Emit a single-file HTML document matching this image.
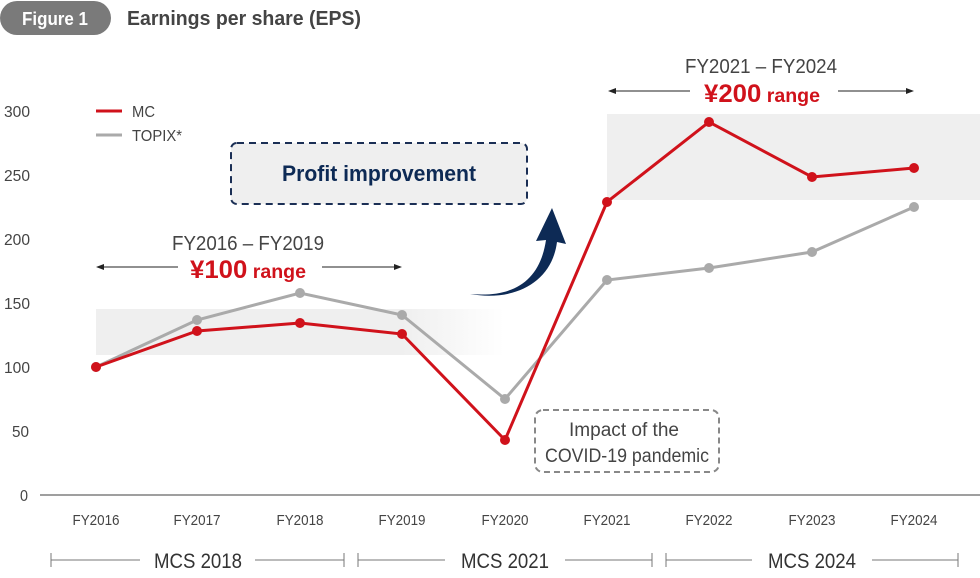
<!DOCTYPE html>
<html><head><meta charset="utf-8"><style>
body{margin:0;background:#fff}
svg text{font-family:"Liberation Sans",sans-serif}
</style></head><body>
<svg width="980" height="573" viewBox="0 0 980 573" xmlns="http://www.w3.org/2000/svg">
<defs>
<linearGradient id="g1" x1="0" x2="1"><stop offset="0.75" stop-color="#efefef"/><stop offset="1" stop-color="#efefef" stop-opacity="0"/></linearGradient>
</defs>
<rect x="0" y="1" width="111" height="34" rx="17" fill="#7a7a7a"/>
<text x="22" y="25" font-size="18" font-weight="bold" fill="#fff" textLength="66" lengthAdjust="spacingAndGlyphs">Figure 1</text>
<text x="127" y="25" font-size="20" font-weight="bold" fill="#444" textLength="234" lengthAdjust="spacingAndGlyphs">Earnings per share (EPS)</text>

<rect x="96" y="309" width="408" height="46" fill="url(#g1)"/>
<rect x="607" y="114" width="373" height="86" fill="#efefef"/>

<g font-size="16" fill="#444" text-anchor="start">
<text x="4" y="117" textLength="26" lengthAdjust="spacingAndGlyphs">300</text><text x="4" y="181" textLength="26" lengthAdjust="spacingAndGlyphs">250</text><text x="4" y="245" textLength="26" lengthAdjust="spacingAndGlyphs">200</text>
<text x="4" y="309" textLength="26" lengthAdjust="spacingAndGlyphs">150</text><text x="4" y="373" textLength="26" lengthAdjust="spacingAndGlyphs">100</text><text x="12" y="437" textLength="17" lengthAdjust="spacingAndGlyphs">50</text><text x="20" y="501" textLength="8" lengthAdjust="spacingAndGlyphs">0</text>
</g>
<line x1="40" y1="495" x2="980" y2="495" stroke="#666" stroke-width="1.2"/>
<g font-size="15" fill="#444" text-anchor="middle">
<text x="96" y="525" textLength="47" lengthAdjust="spacingAndGlyphs">FY2016</text><text x="197" y="525" textLength="47" lengthAdjust="spacingAndGlyphs">FY2017</text><text x="300" y="525" textLength="47" lengthAdjust="spacingAndGlyphs">FY2018</text>
<text x="402" y="525" textLength="47" lengthAdjust="spacingAndGlyphs">FY2019</text><text x="505" y="525" textLength="47" lengthAdjust="spacingAndGlyphs">FY2020</text><text x="607" y="525" textLength="47" lengthAdjust="spacingAndGlyphs">FY2021</text>
<text x="709" y="525" textLength="47" lengthAdjust="spacingAndGlyphs">FY2022</text><text x="812" y="525" textLength="47" lengthAdjust="spacingAndGlyphs">FY2023</text><text x="914" y="525" textLength="47" lengthAdjust="spacingAndGlyphs">FY2024</text>
</g>
<g stroke="#777" stroke-width="1">
<line x1="51" y1="560" x2="140" y2="560"/><line x1="255" y1="560" x2="344" y2="560"/>
<line x1="51" y1="553" x2="51" y2="567"/><line x1="344" y1="553" x2="344" y2="567"/>
<line x1="358" y1="560" x2="445" y2="560"/><line x1="565" y1="560" x2="652" y2="560"/>
<line x1="358" y1="553" x2="358" y2="567"/><line x1="652" y1="553" x2="652" y2="567"/>
<line x1="666" y1="560" x2="752" y2="560"/><line x1="872" y1="560" x2="958" y2="560"/>
<line x1="666" y1="553" x2="666" y2="567"/><line x1="958" y1="553" x2="958" y2="567"/>
</g>
<g font-size="21" fill="#333" text-anchor="middle">
<text x="198" y="568" textLength="88" lengthAdjust="spacingAndGlyphs">MCS 2018</text><text x="505" y="568" textLength="88" lengthAdjust="spacingAndGlyphs">MCS 2021</text><text x="812" y="568" textLength="88" lengthAdjust="spacingAndGlyphs">MCS 2024</text>
</g>

<line x1="96" y1="111" x2="122" y2="111" stroke="#d0121b" stroke-width="3"/>
<text x="132" y="117" font-size="16" fill="#444" textLength="23" lengthAdjust="spacingAndGlyphs">MC</text>
<line x1="96" y1="135" x2="122" y2="135" stroke="#aaa" stroke-width="3"/>
<text x="132" y="141" font-size="16" fill="#444" textLength="50" lengthAdjust="spacingAndGlyphs">TOPIX*</text>

<rect x="231" y="143" width="296" height="61" rx="6" fill="#efefef" stroke="#1b2f55" stroke-width="2" stroke-dasharray="7,5"/>
<text x="379" y="181" font-size="22" font-weight="bold" fill="#0d2a55" text-anchor="middle" textLength="194" lengthAdjust="spacingAndGlyphs">Profit improvement</text>

<path d="M470 294 C515 298 540 280 546 240 L536 241 L552 208 L566 244 L557 242 C552 282 515 302 470 294 Z" fill="#0d2a55"/>

<rect x="535" y="410" width="184" height="62" rx="8" fill="#fff" stroke="#888" stroke-width="2" stroke-dasharray="6,4"/>
<text x="624" y="436" font-size="19" fill="#444" text-anchor="middle" textLength="110" lengthAdjust="spacingAndGlyphs">Impact of the</text>
<text x="627" y="462" font-size="19" fill="#444" text-anchor="middle" textLength="164" lengthAdjust="spacingAndGlyphs">COVID-19 pandemic</text>

<text x="248" y="250" font-size="20" fill="#444" text-anchor="middle" textLength="152" lengthAdjust="spacingAndGlyphs">FY2016 – FY2019</text>
<text x="248" y="278" fill="#d0121b" text-anchor="middle" font-weight="bold" textLength="116" lengthAdjust="spacingAndGlyphs"><tspan font-size="25">¥100</tspan><tspan font-size="19"> range</tspan></text>
<line x1="100" y1="267" x2="178" y2="267" stroke="#222" stroke-width="1"/><path d="M96 267 L104 264 L104 270Z" fill="#222"/>
<line x1="322" y1="267" x2="398" y2="267" stroke="#222" stroke-width="1"/><path d="M402 267 L394 264 L394 270Z" fill="#222"/>

<text x="761" y="73" font-size="20" fill="#444" text-anchor="middle" textLength="152" lengthAdjust="spacingAndGlyphs">FY2021 – FY2024</text>
<text x="762" y="102" fill="#d0121b" text-anchor="middle" font-weight="bold" textLength="116" lengthAdjust="spacingAndGlyphs"><tspan font-size="25">¥200</tspan><tspan font-size="19"> range</tspan></text>
<line x1="612" y1="91" x2="690" y2="91" stroke="#222" stroke-width="1"/><path d="M608 91 L616 88 L616 94Z" fill="#222"/>
<line x1="838" y1="91" x2="910" y2="91" stroke="#222" stroke-width="1"/><path d="M914 91 L906 88 L906 94Z" fill="#222"/>

<polyline points="96,367 197,320 300,293 402,315 505,399 607,280 709,268 812,252 914,207" fill="none" stroke="#aaa" stroke-width="3"/>
<g fill="#aaa"><circle cx="96" cy="367" r="5"/><circle cx="197" cy="320" r="5"/><circle cx="300" cy="293" r="5"/><circle cx="402" cy="315" r="5"/><circle cx="505" cy="399" r="5"/><circle cx="607" cy="280" r="5"/><circle cx="709" cy="268" r="5"/><circle cx="812" cy="252" r="5"/><circle cx="914" cy="207" r="5"/></g>
<polyline points="96,367 197,331 300,323 402,334 505,440 607,202 709,122 812,177 914,168" fill="none" stroke="#d0121b" stroke-width="3"/>
<g fill="#d0121b"><circle cx="96" cy="367" r="5"/><circle cx="197" cy="331" r="5"/><circle cx="300" cy="323" r="5"/><circle cx="402" cy="334" r="5"/><circle cx="505" cy="440" r="5"/><circle cx="607" cy="202" r="5"/><circle cx="709" cy="122" r="5"/><circle cx="812" cy="177" r="5"/><circle cx="914" cy="168" r="5"/></g>
</svg>
</body></html>
